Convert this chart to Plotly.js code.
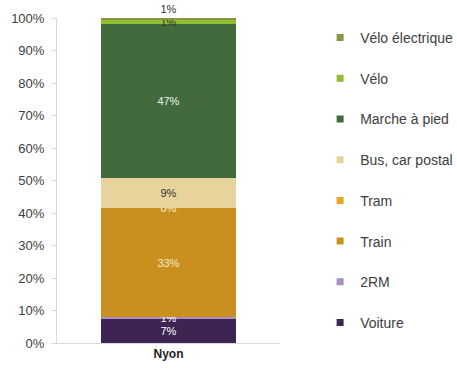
<!DOCTYPE html>
<html>
<head>
<meta charset="utf-8">
<script src="https://cdn.plot.ly/plotly-3.0.1.min.js"></script>
<style>html,body{margin:0;padding:0;background:#fff;}#chart{width:457px;height:369px;}</style>
</head>
<body>
<div id="chart"></div>
<script>
// Data (share of trips, %)
const categories = ["Nyon"];
const seriesNames = ["Voiture", "2RM", "Train", "Tram", "Bus, car postal", "Marche à pied", "Vélo", "Vélo électrique"];
const voiture = [7.3];
const deuxRM = [0.8];
const train = [33.3];
const tram = [0.1];
const bus = [9.2];
const marche = [47.4];
const velo = [1.3];
const veloElec = [0.6];
const barLabels = [["7%"], ["1%"], ["33%"], ["0%"], ["9%"], ["47%"], ["1%"], ["1%"]];
const yTickVals = [0, 10, 20, 30, 40, 50, 60, 70, 80, 90, 100];
const yTickText = ["0%", "10%", "20%", "30%", "40%", "50%", "60%", "70%", "80%", "90%", "100%"];

const seriesValues = [voiture, deuxRM, train, tram, bus, marche, velo, veloElec];
const colors = ["#3d2453", "#a98fc4", "#c99020", "#eaa522", "#e8d39c", "#436a3f", "#8fbf31", "#8b9442"];
const textColors = ["#ffffff", "#ffffff", "#f6e9c8", "#fff2d0", "#333333", "#eef3ea", "#333333", "#333333"];

const traces = [];
seriesNames.forEach((name, i) => {
  const isTop = i === seriesNames.length - 1;
  const tf = {family: "Liberation Sans, Arial, sans-serif", size: 11, color: textColors[i]};
  traces.push({
    type: "bar",
    x: categories,
    y: seriesValues[i],
    name: name,
    showlegend: false,
    marker: {color: colors[i], line: {width: 0}},
    text: barLabels[i],
    textposition: isTop ? "outside" : "inside",
    insidetextanchor: "middle",
    textangle: 0,
    constraintext: "none",
    cliponaxis: false,
    textfont: tf,
    insidetextfont: tf,
    outsidetextfont: tf,
    hoverinfo: "skip"
  });
});
// legend entries (small square swatches), top entry = last series
for (let i = seriesNames.length - 1; i >= 0; i--) {
  traces.push({
    type: "scatter",
    mode: "markers",
    x: [null],
    y: [null],
    name: seriesNames[i],
    legendgroup: "g" + i,
    showlegend: true,
    marker: {symbol: "square", size: 7, color: colors[i]},
    hoverinfo: "skip"
  });
}

const layout = {
  width: 457,
  height: 369,
  margin: {l: 57, r: 177, t: 18, b: 26},
  paper_bgcolor: "#ffffff",
  plot_bgcolor: "#ffffff",
  barmode: "stack",
  bargap: 0.395,
  font: {family: "Liberation Sans, Arial, sans-serif", color: "#404040"},
  uniformtext: {mode: "show", minsize: 11},
  xaxis: {
    type: "category",
    showgrid: false,
    showline: true,
    linecolor: "#d9d9d9",
    linewidth: 1,
    ticks: "",
    tickfont: {size: 12, color: "#222222", weight: "bold"},
    fixedrange: true
  },
  yaxis: {
    range: [0, 100],
    tickmode: "array",
    tickvals: yTickVals,
    ticktext: yTickText,
    showgrid: false,
    zeroline: false,
    showline: true,
    linecolor: "#d9d9d9",
    linewidth: 1,
    ticks: "outside",
    ticklen: 5,
    tickcolor: "#d9d9d9",
    tickfont: {size: 13, color: "#404040"},
    ticklabelstandoff: 4,
    fixedrange: true
  },
  showlegend: true,
  legend: {
    xref: "container",
    yref: "container",
    x: 0.7005,
    xanchor: "left",
    y: 0.9404,
    yanchor: "top",
    maxheight: 369,
    traceorder: "grouped",
    tracegroupgap: 19.5,
    font: {size: 14, color: "#404040"},
    bgcolor: "rgba(0,0,0,0)",
    itemclick: false,
    itemdoubleclick: false
  }
};

Plotly.newPlot("chart", traces, layout, {staticPlot: true, displayModeBar: false});
</script>
</body>
</html>
